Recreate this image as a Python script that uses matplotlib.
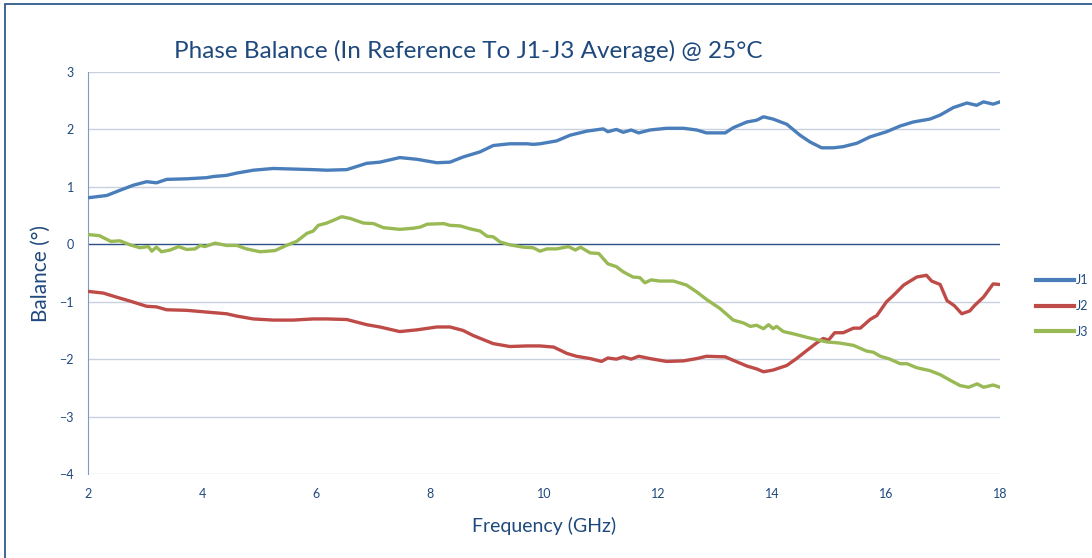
#! /usr/bin/env python
"""
Phase balance of J1..J3 relative to the J1-J3 average at 25 C
"""

import matplotlib
matplotlib.use('Agg')
import matplotlib.pyplot as plt
from matplotlib.lines import Line2D
from matplotlib.patches import Rectangle

freq_j1 = [2.0, 2.33, 2.56, 2.8, 3.03, 3.2, 3.38, 3.73, 4.08, 4.2, 4.43, 4.61, 4.9,
           5.25, 5.6, 5.95, 6.19, 6.54, 6.89, 7.12, 7.47, 7.77, 8.12, 8.35, 8.58,
           8.88, 9.11, 9.4, 9.7, 9.81, 9.93, 10.22, 10.46, 10.75, 11.04, 11.12,
           11.27, 11.39, 11.53, 11.66, 11.86, 12.15, 12.45, 12.68, 12.85, 13.18,
           13.32, 13.56, 13.73, 13.85, 14.02, 14.26, 14.49, 14.67, 14.87, 15.08,
           15.25, 15.49, 15.72, 16.01, 16.25, 16.48, 16.77, 16.95, 17.18, 17.42,
           17.59, 17.71, 17.88, 18.0]
j1 = [0.81, 0.85, 0.94, 1.03, 1.09, 1.07, 1.13, 1.14, 1.16, 1.18, 1.20, 1.24, 1.29,
      1.32, 1.31, 1.30, 1.29, 1.30, 1.41, 1.43, 1.51, 1.48, 1.42, 1.43, 1.52,
      1.61, 1.72, 1.75, 1.75, 1.74, 1.75, 1.80, 1.90, 1.97, 2.01, 1.96,
      2.00, 1.95, 1.99, 1.94, 1.99, 2.02, 2.02, 1.99, 1.94, 1.94,
      2.03, 2.13, 2.16, 2.22, 2.18, 2.09, 1.90, 1.78, 1.68, 1.68,
      1.70, 1.76, 1.87, 1.96, 2.06, 2.13, 2.18, 2.25, 2.38, 2.46,
      2.42, 2.48, 2.44, 2.48]

freq_j2 = [2.0, 2.27, 2.5, 2.74, 3.03, 3.2, 3.38, 3.73, 4.08, 4.43, 4.61, 4.9, 5.25,
           5.6, 5.95, 6.19, 6.54, 6.89, 7.12, 7.47, 7.77, 8.12, 8.35, 8.58, 8.76,
           9.11, 9.4, 9.7, 9.93, 10.17, 10.4, 10.57, 10.81, 11.01, 11.12, 11.27,
           11.39, 11.53, 11.66, 11.86, 12.15, 12.45, 12.68, 12.85, 13.18, 13.32,
           13.56, 13.73, 13.85, 14.02, 14.26, 14.43, 14.61, 14.78, 14.9, 14.99,
           15.1, 15.25, 15.43, 15.55, 15.72, 15.84, 16.01, 16.13, 16.31, 16.54,
           16.71, 16.8, 16.95, 17.07, 17.2, 17.33, 17.47, 17.55, 17.71, 17.88, 18.0]
j2 = [-0.82, -0.85, -0.92, -0.99, -1.08, -1.09, -1.14, -1.15, -1.18, -1.21, -1.25,
      -1.30, -1.32, -1.32, -1.30, -1.30, -1.31, -1.40, -1.44, -1.52, -1.49, -1.44,
      -1.44, -1.50, -1.59, -1.73, -1.78, -1.77, -1.77, -1.79, -1.90, -1.95, -1.99,
      -2.04, -1.98, -2.00, -1.96, -2.00, -1.95, -1.99, -2.04, -2.03, -1.99, -1.95,
      -1.96, -2.02, -2.12, -2.17, -2.22, -2.19, -2.11, -1.99, -1.85, -1.72, -1.64,
      -1.67, -1.54, -1.54, -1.46, -1.46, -1.31, -1.24, -1.00, -0.89, -0.71, -0.57,
      -0.54, -0.64, -0.70, -0.98, -1.07, -1.21, -1.16, -1.07, -0.92, -0.69, -0.70]

freq_j3 = [2.0, 2.2, 2.4, 2.56, 2.74, 2.91, 3.06, 3.12, 3.2, 3.29, 3.44, 3.59, 3.73,
           3.88, 3.97, 4.05, 4.23, 4.43, 4.61, 4.78, 5.02, 5.28, 5.48, 5.66, 5.84,
           5.95, 6.04, 6.19, 6.31, 6.45, 6.6, 6.83, 7.01, 7.18, 7.47, 7.71, 7.83,
           7.95, 8.24, 8.35, 8.53, 8.7, 8.88, 9.0, 9.11, 9.23, 9.4, 9.64, 9.81, 9.93,
           10.05, 10.22, 10.43, 10.55, 10.64, 10.81, 10.96, 11.12, 11.27, 11.39,
           11.56, 11.68, 11.77, 11.88, 12.03, 12.27, 12.5, 12.68, 12.85, 13.09,
           13.32, 13.5, 13.62, 13.73, 13.85, 13.94, 14.02, 14.08, 14.2, 14.38,
           14.61, 14.78, 14.96, 15.19, 15.43, 15.66, 15.78, 15.9, 16.07, 16.25,
           16.37, 16.54, 16.77, 16.95, 17.13, 17.3, 17.45, 17.6, 17.71, 17.88, 18.0]
j3 = [0.17, 0.15, 0.05, 0.06, -0.01, -0.06, -0.04, -0.12, -0.05, -0.13, -0.10, -0.04,
      -0.09, -0.08, -0.02, -0.04, 0.02, -0.02, -0.02, -0.08, -0.13, -0.11, -0.02,
      0.05, 0.19, 0.23, 0.33, 0.37, 0.42, 0.48, 0.45, 0.37, 0.36, 0.29, 0.26, 0.28,
      0.30, 0.35, 0.36, 0.33, 0.32, 0.27, 0.23, 0.14, 0.13, 0.04, -0.01, -0.05,
      -0.06, -0.12, -0.08, -0.08, -0.04, -0.10, -0.05, -0.15, -0.16, -0.34, -0.39,
      -0.48, -0.57, -0.58, -0.67, -0.62, -0.64, -0.64, -0.71, -0.83, -0.96, -1.12,
      -1.32, -1.37, -1.43, -1.41, -1.47, -1.40, -1.47, -1.43, -1.52, -1.56, -1.62,
      -1.66, -1.70, -1.72, -1.76, -1.86, -1.88, -1.95, -2.00, -2.08, -2.08, -2.15,
      -2.20, -2.27, -2.37, -2.46, -2.49, -2.43, -2.49, -2.45, -2.49]

text_color = '#1f497d'
grid_color = '#c9d1de'
plt.rcParams['font.family'] = ['Lato', 'DejaVu Sans']

fig = plt.figure(figsize=(10.92, 5.58), dpi=100)
ax = fig.add_axes([88 / 1092, 1 - 474 / 558, 912 / 1092, 402 / 558])

# outer chart frame, only its top and left edges fall inside the picture
fig.patches.append(Rectangle((5 / 1092, -0.1), 1.2, 1.1 - 4 / 558,
                             transform=fig.transFigure, fill=False,
                             edgecolor='#2f5a8a', linewidth=1.3))

for y in range(-4, 4):
    if y != 0:
        ax.axhline(y, color=grid_color, linewidth=1.0, zorder=1)
ax.axhline(0, color='#2c4f86', linewidth=1.0, zorder=1)

ax.plot(freq_j1, j1, color='#4a7ebb', linewidth=2.4, label='J1', zorder=3)
ax.plot(freq_j2, j2, color='#be4b48', linewidth=2.4, label='J2', zorder=3)
ax.plot(freq_j3, j3, color='#98b954', linewidth=2.4, label='J3', zorder=3)

ax.set_xlim(2, 18)
ax.set_ylim(-4, 3)
ax.set_xticks(range(2, 19, 2))
ax.set_yticks(range(-4, 4))
ax.tick_params(length=0, labelsize=9, colors=text_color, pad=10)
for side in ['top', 'right', 'bottom']:
    ax.spines[side].set_visible(False)
ax.spines['left'].set_color('#7f9cc0')

ax.set_title('Phase Balance (In Reference To J1-J3 Average) @ 25°C',
             fontsize=17.5, color=text_color, x=0.417, pad=10)
ax.set_xlabel('Frequency (GHz)', fontsize=14, color=text_color, labelpad=12)
ax.set_ylabel('Balance (°)', fontsize=15, color=text_color, labelpad=6)

handles = [Line2D([], [], color=c, linewidth=3) for c in ['#4a7ebb', '#be4b48', '#98b954']]
fig.legend(handles, ['J1', 'J2', 'J3'], loc='center left',
           bbox_to_anchor=(1025 / 1092, 1 - 306 / 558), frameon=False,
           fontsize=9, labelcolor=text_color, handlelength=3.0,
           handletextpad=0.2, labelspacing=1.1)

fig.savefig('out.png', dpi=100)
